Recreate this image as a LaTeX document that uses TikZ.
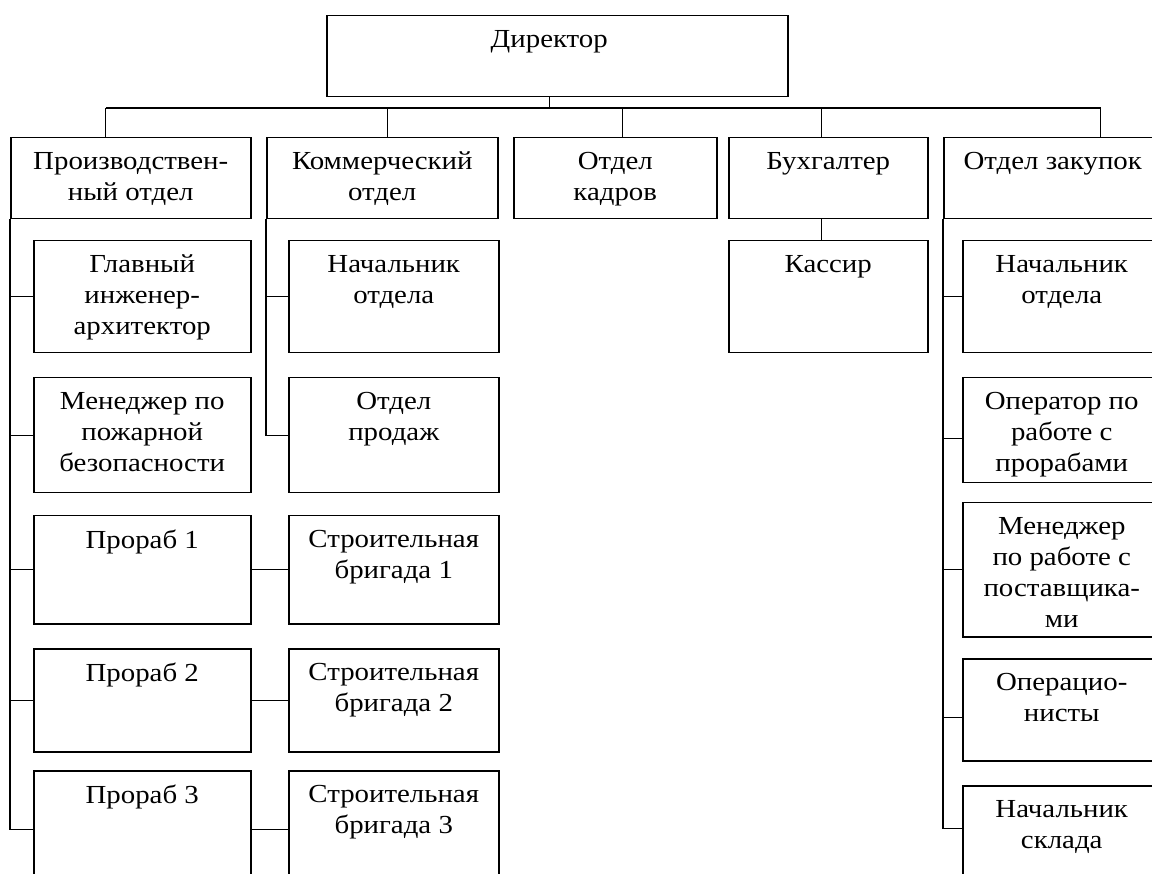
\documentclass[tikz,border=0pt]{standalone}
\usepackage{fontspec}
\setmainfont{Liberation Serif}[FakeStretch=1.11]

\begin{document}
\begin{tikzpicture}[x=1pt, y=-1pt,
    unit/.style={draw, line width=1.5pt, inner sep=0pt, anchor=north west},
    txt/.style={anchor=north, align=center, inner sep=0pt, yshift=-15pt, font=\fontsize{26}{31}\selectfont},
    link/.style={line width=1.2pt}]
      \useasboundingbox (0,0) rectangle (1152,874);
      \clip (0,0) rectangle (1152,874);

      % Director and departments
      \node[unit, minimum width=461, minimum height=81, label={[txt, xshift=-8pt]north:Директор}] (dir) at (326,15) {};
      \node[unit, minimum width=240, minimum height=81, label={[txt]north:{Производствен-\\ный отдел}}] (prod) at (10,137) {};
      \node[unit, minimum width=231, minimum height=81, label={[txt]north:{Коммерческий\\отдел}}] (komm) at (266,137) {};
      \node[unit, minimum width=203, minimum height=81, label={[txt]north:{Отдел\\кадров}}] (kadr) at (513,137) {};
      \node[unit, minimum width=199, minimum height=81, label={[txt]north:Бухгалтер}] (buh) at (728,137) {};
      \node[unit, minimum width=218, minimum height=81, label={[txt]north:Отдел закупок}] (zak) at (943,137) {};

      % Production department
      \node[unit, minimum width=217, minimum height=112, label={[txt]north:{Главный\\инженер-\\архитектор}}] (glav) at (33,240) {};
      \node[unit, minimum width=217, minimum height=115, label={[txt]north:{Менеджер по\\пожарной\\безопасности}}] (fire) at (33,377) {};
      \node[unit, minimum width=217, minimum height=108, label={[txt]north:Прораб 1}] (prb1) at (33,515) {};
      \node[unit, minimum width=217, minimum height=103, label={[txt]north:Прораб 2}] (prb2) at (33,648) {};
      \node[unit, minimum width=217, minimum height=118, label={[txt]north:Прораб 3}] (prb3) at (33,770) {};

      % Commercial department and crews
      \node[unit, minimum width=210, minimum height=112, label={[txt]north:{Начальник\\отдела}}] (chief1) at (288,240) {};
      \node[unit, minimum width=210, minimum height=115, label={[txt]north:{Отдел\\продаж}}] (sales) at (288,377) {};
      \node[unit, minimum width=210, minimum height=108, label={[txt]north:{Строительная\\бригада 1}}] (crew1) at (288,515) {};
      \node[unit, minimum width=210, minimum height=103, label={[txt]north:{Строительная\\бригада 2}}] (crew2) at (288,648) {};
      \node[unit, minimum width=210, minimum height=118, label={[txt]north:{Строительная\\бригада 3}}] (crew3) at (288,770) {};

      % Accountant
      \node[unit, minimum width=199, minimum height=112, label={[txt]north:Кассир}] (kass) at (728,240) {};

      % Purchasing department
      \node[unit, minimum width=198, minimum height=112, label={[txt]north:{Начальник\\отдела}}] (chief2) at (962,240) {};
      \node[unit, minimum width=198, minimum height=105, label={[txt]north:{Оператор по\\работе с\\прорабами}}] (oper) at (962,377) {};
      \node[unit, minimum width=198, minimum height=134, label={[txt]north:{Менеджер\\по работе с\\поставщика-\\ми}}] (supp) at (962,502) {};
      \node[unit, minimum width=198, minimum height=102, label={[txt]north:{Операцио-\\нисты}}] (opn) at (962,658) {};
      \node[unit, minimum width=198, minimum height=100, label={[txt]north:{Начальник\\склада}}] (store) at (962,785) {};

      % Bus under the director
      \coordinate (bus) at (0,108);
      \draw[link] ([xshift=-7.5pt]dir.south) -- ([xshift=-7.5pt]dir.south |- bus);
      \draw[link] ([xshift=-25pt]prod.north |- bus) -- ([xshift=48pt]zak.north |- bus);
      \foreach \n/\dx in {prod/-25, komm/5.5, kadr/7.5, buh/-6.5, zak/48}
        \draw[link] ([xshift=\dx pt]\n.north) -- ([xshift=\dx pt]\n.north |- bus);

      % Spines
      \draw[link] (prod.south west) |- (prb3.west);
      \foreach \n in {glav, fire, prb1, prb2}
        \draw[link] (\n.west) -- (\n.west -| prod.south west);
      \draw[link] (komm.south west) |- (sales.west);
      \draw[link] (chief1.west) -- (chief1.west -| komm.south west);
      \draw[link] (zak.south west) |- ([yshift=7pt]store.west);
      \foreach \n/\dy in {chief2/0, oper/-8, supp/0, opn/-8}
        \draw[link] ([yshift=\dy pt]\n.west) -- ([yshift=\dy pt]\n.west -| zak.south west);
      \draw[link] ([xshift=-6.5pt]buh.south) -- ([xshift=-6.5pt]buh.south |- kass.north);

      % Foremen and crews
      \foreach \i in {1,2,3}
        \draw[link] (prb\i.east) -- (crew\i.west);
\end{tikzpicture}
\end{document}
